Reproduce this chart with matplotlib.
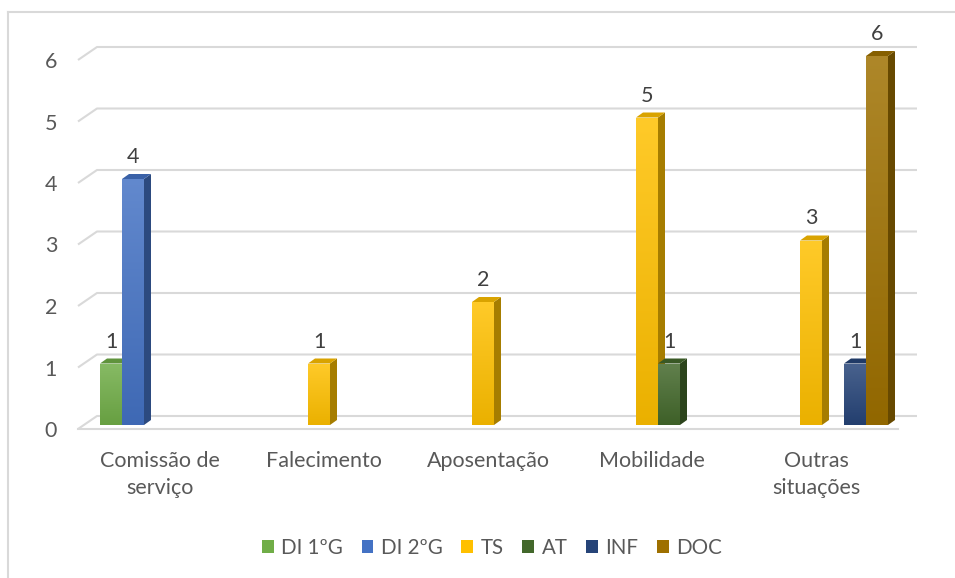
import numpy as np
import matplotlib
matplotlib.use('Agg')
import matplotlib.pyplot as plt
from matplotlib.patches import Polygon, Patch
from matplotlib.lines import Line2D
from matplotlib.colors import to_rgb

plt.rcParams['font.family'] = ['Lato', 'DejaVu Sans']

categories = ['Comissão de\nserviço', 'Falecimento', 'Aposentação', 'Mobilidade', 'Outras\nsituações']
series = ['DI 1ºG', 'DI 2ºG', 'TS', 'AT', 'INF', 'DOC']
di1 = [1, 0, 0, 0, 0]
di2 = [4, 0, 0, 0, 0]
ts = [0, 1, 2, 5, 3]
at = [0, 0, 0, 1, 0]
inf = [0, 0, 0, 0, 1]
doc = [0, 0, 0, 0, 6]
values = [di1, di2, ts, at, inf, doc]
colors = ['#70AD47', '#4472C4', '#FFC000', '#43682B', '#264478', '#9E7000']

W, H = 955, 578
PXX, PXY = 164.0, 61.5      # pixels per data unit (x, y)
X0, Y0 = 78, 429            # pixel position of data (0, 0)
XL, YL = (-0.3, 5.4), (-0.4, 6.9)

fig = plt.figure(figsize=(W / 100, H / 100), dpi=100)
left = X0 + XL[0] * PXX
bottom = (H - Y0) + YL[0] * PXY
ax = fig.add_axes([left / W, bottom / H, (XL[1] - XL[0]) * PXX / W, (YL[1] - YL[0]) * PXY / H])

txt = '#595959'
grid = '#d9d9d9'
fs = 15.5


def mix(c, t, f):
    c = np.array(to_rgb(c))
    return tuple(c + (np.array(t) - c) * f)


# back walls / gridlines
gx, gy = 19 / PXX, 13 / PXY
for v in range(7):
    ax.plot([0, gx, 5 + gx], [v, v + gy, v + gy], color=grid, lw=1.5, zorder=1,
            solid_capstyle='butt')
ax.plot([0, 5], [0, 0], color=grid, lw=1.5, zorder=1)

# bars
bw = 22 / PXX
bx0 = 22 / PXX
by0 = 4 / PXY
ddx, ddy = 7 / PXX, 5 / PXY
for k, (vals, col) in enumerate(zip(values, colors)):
    for i, v in enumerate(vals):
        if v == 0:
            continue
        x0 = i + bx0 + k * bw
        x1 = x0 + bw
        y0 = by0
        y1 = by0 + v
        side = Polygon([(x1, y0), (x1 + ddx, y0 + ddy), (x1 + ddx, y1 + ddy), (x1, y1)],
                       closed=True, fc=mix(col, (0, 0, 0), 0.35), ec='none', zorder=3 + k)
        top = Polygon([(x0, y1), (x0 + ddx, y1 + ddy), (x1 + ddx, y1 + ddy), (x1, y1)],
                      closed=True, fc=mix(col, (0, 0, 0), 0.15), ec='none', zorder=3 + k)
        ax.add_patch(side)
        ax.add_patch(top)
        front = Polygon([(x0, y0), (x1, y0), (x1, y1), (x0, y1)], closed=True,
                        fc='none', ec='none', zorder=3 + k)
        ax.add_patch(front)
        ctop = mix(col, (1, 1, 1), 0.16)
        cbot = mix(col, (0, 0, 0), 0.08)
        grad = np.linspace(0, 1, 64)[:, None, None]
        img = np.array(cbot)[None, None, :] * (1 - grad) + np.array(ctop)[None, None, :] * grad
        im = ax.imshow(img, extent=[x0, x1, y0, y1], origin='lower', aspect='auto',
                       zorder=3.1 + k, interpolation='bilinear')
        im.set_clip_path(front)
        ax.text((x0 + x1) / 2, y1 + 22 / PXY, str(v), ha='center', va='center',
                fontsize=fs, color='#404040', zorder=10)

ax.set_xlim(*XL)
ax.set_ylim(*YL)
ax.set_xticks(np.arange(5) + 0.5, categories)
ax.set_yticks(range(7))
ax.tick_params(length=0, labelsize=fs, colors=txt)
ax.tick_params(axis='y', pad=-0.3 * PXX * 0.72 + 15)
ax.tick_params(axis='x', pad=-0.4 * PXY * 0.72 + 16)
for t in ax.get_xticklabels():
    t.set_linespacing(1.45)
for s in ax.spines.values():
    s.set_visible(False)
ax.patch.set_visible(False)

# chart border (top and left only visible)
fig.add_artist(Line2D([8 / W, 8 / W], [0, 1 - 12 / H], color=grid, lw=1.5))
fig.add_artist(Line2D([8 / W, 1], [1 - 12 / H, 1 - 12 / H], color=grid, lw=1.5))

handles = [Patch(fc=c, ec='none') for c in colors]
fig.legend(handles, series, loc='center', bbox_to_anchor=(492 / W, 1 - 548 / H), ncol=6,
           frameon=False, fontsize=14.8, labelcolor=txt, handlelength=0.58, handleheight=0.58,
           handletextpad=0.35, columnspacing=0.92, borderpad=0)

fig.savefig('out.png', dpi=100)
